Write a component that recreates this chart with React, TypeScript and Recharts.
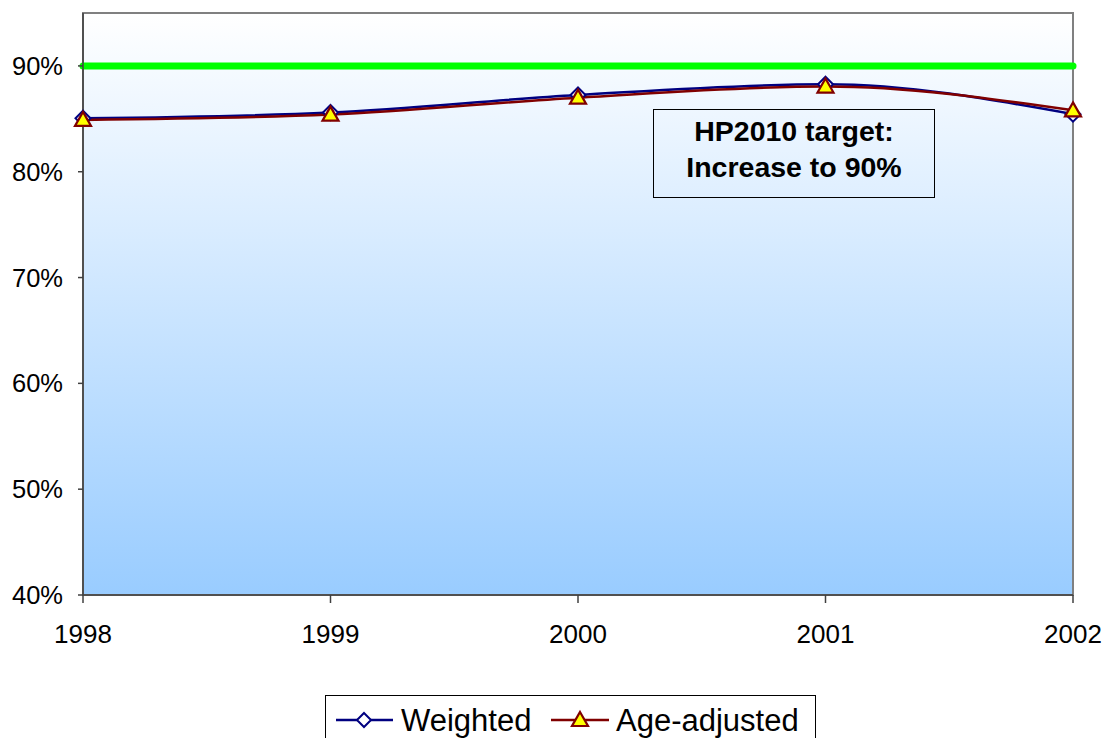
import {
  LineChart,
  Line,
  XAxis,
  YAxis,
  ReferenceArea,
  ReferenceLine,
} from "recharts";

const years = [1998, 1999, 2000, 2001, 2002];
const weighted = [85.05, 85.6, 87.25, 88.27, 85.44];
const ageAdjusted = [84.9, 85.4, 87.0, 88.05, 85.8];
const yTicks = [40, 50, 60, 70, 80, 90];
const target = 90;

const data = years.map((year, i) => ({
  year,
  weighted: weighted[i],
  ageAdjusted: ageAdjusted[i],
}));

const FONT = "'Liberation Sans', Arial, sans-serif";

const Diamond = ({ cx, cy, r = 7.5 }: any) => (
  <path
    d={`M${cx},${cy - r}L${cx + r},${cy}L${cx},${cy + r}L${cx - r},${cy}Z`}
    fill="#FFFFFF"
    stroke="#000080"
    strokeWidth={2}
  />
);

const Triangle = ({ cx, cy }: any) => (
  <path
    d={`M${cx},${cy - 8}L${cx + 8},${cy + 6}L${cx - 8},${cy + 6}Z`}
    fill="#FFFF00"
    stroke="#800000"
    strokeWidth={2.2}
  />
);

const renderDiamond = (props: any) => (
  <Diamond key={`d-${props.index}`} cx={props.cx} cy={props.cy} />
);
const renderTriangle = (props: any) => (
  <Triangle key={`t-${props.index}`} cx={props.cx} cy={props.cy} />
);

export default function App() {
  return (
    <div
      style={{
        position: "relative",
        width: 1104,
        height: 738,
        overflow: "hidden",
        background: "#FFFFFF",
        fontFamily: FONT,
      }}
    >
      <style>{`html,body{margin:0;padding:0;}`}</style>
      <LineChart
        width={1104}
        height={738}
        data={data}
        margin={{ top: 13, right: 31, left: 0, bottom: 83 }}
      >
        <defs>
          <linearGradient id="plotBg" x1="0" y1="0" x2="0" y2="1">
            <stop offset="0%" stopColor="#FFFFFF" />
            <stop offset="100%" stopColor="#99CCFF" />
          </linearGradient>
        </defs>
        <XAxis
          dataKey="year"
          type="number"
          domain={[1998, 2002]}
          ticks={years}
          height={60}
          tickSize={8}
          tickMargin={22}
          stroke="#404040"
          strokeWidth={1.5}
          tick={{ fill: "#000", fontSize: 26, fontFamily: FONT }}
        />
        <YAxis
          type="number"
          domain={[40, 95]}
          ticks={yTicks}
          width={83}
          tickSize={5}
          tickMargin={15}
          stroke="#404040"
          strokeWidth={1.5}
          tickFormatter={(v) => `${v}%`}
          tick={{ fill: "#000", fontSize: 25.5, fontFamily: FONT }}
        />
        <ReferenceArea
          x1={1998}
          x2={2002}
          y1={40}
          y2={95}
          fill="url(#plotBg)"
          fillOpacity={1}
          stroke="#808080"
          strokeWidth={2}
        />
        <ReferenceLine
          y={target}
          stroke="#00FF00"
          strokeWidth={7}
          strokeLinecap="round"
        />
        <Line
          type="monotone"
          dataKey="weighted"
          stroke="#000080"
          strokeWidth={2.5}
          dot={renderDiamond}
          activeDot={false}
          isAnimationActive={false}
        />
        <Line
          type="monotone"
          dataKey="ageAdjusted"
          stroke="#800000"
          strokeWidth={2.5}
          dot={renderTriangle}
          activeDot={false}
          isAnimationActive={false}
        />
      </LineChart>

      {/* HP2010 target annotation */}
      <div
        style={{
          position: "absolute",
          left: 653,
          top: 109,
          width: 280,
          height: 84,
          border: "1.5px solid #000",
          paddingTop: 3,
          boxSizing: "content-box",
          textAlign: "center",
          fontWeight: "bold",
          fontSize: 28.5,
          lineHeight: "36px",
          color: "#000",
          whiteSpace: "nowrap",
        }}
      >
        HP2010 target:
        <br />
        Increase to 90%
      </div>

      {/* legend */}
      <div
        style={{
          position: "absolute",
          left: 325,
          top: 695,
          width: 489,
          height: 60,
          border: "1.5px solid #000",
          background: "#FFFFFF",
        }}
      >
        <svg width={489} height={60} style={{ display: "block" }}>
          <line x1={10} y1={24} x2={67} y2={24} stroke="#000080" strokeWidth={2.5} />
          <Diamond cx={38} cy={24} r={7} />
          <text x={75} y={35} fontSize={31} fontFamily={FONT} fill="#000">
            Weighted
          </text>
          <line x1={225} y1={24} x2={283} y2={24} stroke="#800000" strokeWidth={2.5} />
          <Triangle cx={254} cy={24} />
          <text x={290} y={35} fontSize={31} fontFamily={FONT} fill="#000">
            Age-adjusted
          </text>
        </svg>
      </div>
    </div>
  );
}
